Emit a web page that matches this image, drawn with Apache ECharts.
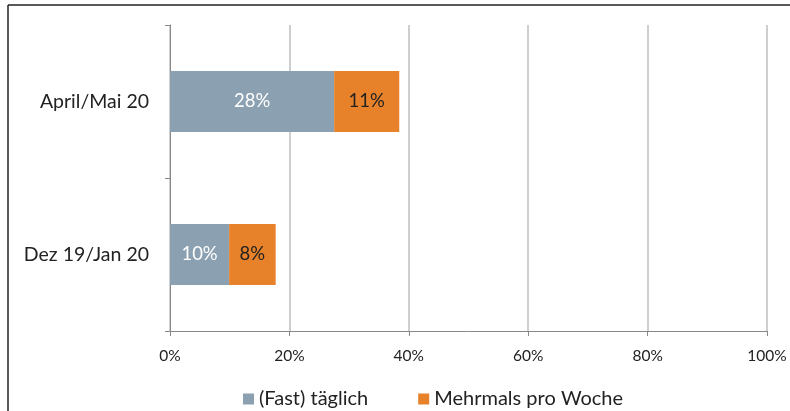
<!DOCTYPE html>
<html>
<head>
<meta charset="utf-8">
<script src="https://cdn.jsdelivr.net/npm/echarts@6/dist/echarts.min.js"></script>
<style>html,body{margin:0;padding:0;background:#fff}#c{width:790px;height:411px}</style>
</head>
<body>
<div id="c"></div>
<script>
var categories = ['April/Mai 20', 'Dez 19/Jan 20'];
var seriesNames = ['(Fast) täglich', 'Mehrmals pro Woche'];
var taeglich = [27.5, 9.9];
var mehrmals = [10.9, 7.8];
var xTicks = [0, 20, 40, 60, 80, 100];

var FONT = 'Lato, "Open Sans", sans-serif';
function pct(p) { return Math.round(p.value) + '%'; }
var chart = echarts.init(document.getElementById('c'));
chart.setOption({
  animation: false,
  textStyle: { fontFamily: FONT },
  graphic: [
    { type: 'line', shape: { x1: 8, y1: 5, x2: 790, y2: 5 }, style: { stroke: '#222', lineWidth: 1.5 } },
    { type: 'line', shape: { x1: 8, y1: 5, x2: 8, y2: 411 }, style: { stroke: '#222', lineWidth: 1.5 } }
  ],
  grid: { left: 170, right: 23, top: 25, bottom: 80 },
  legend: {
    top: 384, left: 238,
    itemWidth: 11, itemHeight: 11, itemGap: 50,
    icon: 'rect',
    textStyle: { fontSize: 20, color: '#222', fontFamily: FONT },
    data: seriesNames
  },
  xAxis: {
    type: 'value', min: xTicks[0], max: xTicks[xTicks.length - 1], interval: 20,
    axisLine: { show: true, lineStyle: { color: '#888' } },
    axisTick: { show: true, length: 5, lineStyle: { color: '#888' } },
    splitLine: { show: true, lineStyle: { color: '#bfbfbf', width: 1.5 } },
    axisLabel: { formatter: '{value}%', fontSize: 15.5, color: '#222', margin: 17, fontFamily: FONT }
  },
  yAxis: {
    type: 'category', inverse: true, data: categories,
    axisLine: { show: true, lineStyle: { color: '#888' } },
    axisTick: { show: true, length: 5, lineStyle: { color: '#888' } },
    axisLabel: { fontSize: 19.5, color: '#222', margin: 21, fontFamily: FONT }
  },
  series: [
    {
      name: seriesNames[0], type: 'bar', stack: 's', data: taeglich, barWidth: 61,
      itemStyle: { color: '#8BA1B1' },
      label: { show: true, position: 'inside', formatter: pct, color: '#fff', fontSize: 18.5, fontFamily: FONT }
    },
    {
      name: seriesNames[1], type: 'bar', stack: 's', data: mehrmals, barWidth: 61,
      itemStyle: { color: '#E8822A' },
      label: { show: true, position: 'inside', formatter: pct, color: '#222', fontSize: 18.5, fontFamily: FONT }
    }
  ]
});
</script>
</body>
</html>
